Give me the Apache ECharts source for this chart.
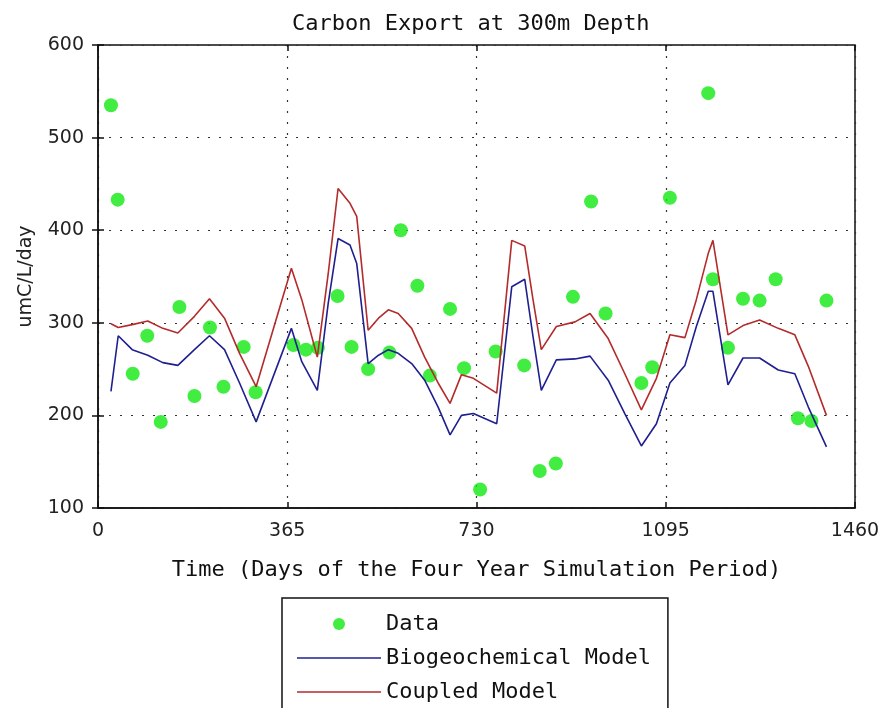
<!DOCTYPE html>
<html>
<head>
<meta charset="utf-8">
<script src="https://cdn.jsdelivr.net/npm/echarts@6/dist/echarts.min.js"></script>
<style>
  html, body { margin: 0; padding: 0; background: #fff; }
  #chart { width: 883px; height: 708px; }
</style>
</head>
<body>
<div id="chart"></div>
<script>
// Observed carbon export samples (day of simulation, umC/L/day)
const dataDays = [25, 38, 67, 95, 121, 157, 186, 216, 242, 281, 304, 377, 401, 424, 462, 489, 521,
  562, 584, 616, 640, 679, 706, 737, 767, 822, 852, 883, 916, 951, 979, 1048, 1069, 1103, 1177,
  1186, 1215, 1244, 1276, 1307, 1350, 1376, 1405];
const dataValues = [535, 433, 245, 286, 193, 317, 221, 295, 231, 274, 225, 276, 271, 273, 329, 274, 250,
  268, 400, 340, 243, 315, 251, 120, 269, 254, 140, 148, 328, 431, 310, 235, 252, 435, 548,
  347, 273, 326, 324, 347, 197, 194, 324];

// Model output days (shared by both model runs)
const modelDays = [25, 39, 66, 96, 125, 154, 186, 215, 244, 273, 305, 373, 393, 423, 444, 463, 486,
  499, 521, 541, 560, 579, 605, 630, 656, 679, 701, 724, 769, 798, 823, 839, 855, 884, 920, 949,
  984, 1016, 1048, 1077, 1103, 1132, 1154, 1177, 1186, 1215, 1244, 1276, 1312, 1344, 1370, 1405];
const biogeoValues = [226, 286, 271, 265, 257, 254, 271, 286, 271, 235, 193, 294, 258, 227, 321, 391, 384,
  364, 256, 265, 271, 267, 256, 238, 209, 179, 200, 202, 191, 339, 347, 285, 227, 260, 261, 264,
  238, 202, 167, 191, 235, 254, 296, 334, 334, 233, 262, 262, 249, 245, 209, 166];
const coupledValues = [299, 295, 298, 302, 294, 289, 307, 326, 305, 267, 231, 359, 325, 263, 353, 445, 429,
  415, 292, 305, 314, 310, 294, 263, 235, 213, 244, 240, 224, 389, 383, 325, 271, 296, 301, 310,
  283, 245, 206, 240, 287, 284, 325, 375, 389, 287, 297, 303, 294, 287, 253, 200];

// Axis ticks
const xTicks = [0, 365, 730, 1095, 1460];
const yTicks = [100, 200, 300, 400, 500, 600];

const pairs = (xs, ys) => xs.map((x, i) => [x, ys[i]]);

const mono = '"DejaVu Sans Mono", "Liberation Mono", monospace';
const sans = '"DejaVu Sans", "Liberation Sans", sans-serif';

const dataColor = '#12e812';
const biogeoColor = '#1f1f8f';
const coupledColor = '#b32b2b';

// thin horizontal bar used as the line sample in the legend
const lineIcon = 'path://M0,0H84V1.6H0Z';

const chart = echarts.init(document.getElementById('chart'), null, { renderer: 'canvas' });

const xMin = xTicks[0], xMax = xTicks[xTicks.length - 1];
const yMin = yTicks[0], yMax = yTicks[yTicks.length - 1];
const xStep = xTicks[1] - xTicks[0], yStep = yTicks[1] - yTicks[0];

const option = {
  backgroundColor: '#ffffff',
  animation: false,
  title: {
    text: 'Carbon Export at 300m Depth',
    left: 292,
    top: 13,
    padding: 0,
    textStyle: { fontFamily: mono, fontSize: 22, fontWeight: 'normal', color: '#111' }
  },
  grid: {
    left: 98, right: 28, top: 45, bottom: 200,
    show: true, borderColor: '#111', borderWidth: 1.5, backgroundColor: '#fff'
  },
  legend: {
    orient: 'vertical',
    left: 282,
    top: 598,
    height: 200,
    padding: [15, 17, 30, 15],
    itemWidth: 84,
    itemHeight: 12,
    itemGap: 12,
    borderColor: '#111',
    borderWidth: 1.5,
    backgroundColor: '#fff',
    textStyle: { fontFamily: mono, fontSize: 22, color: '#111', lineHeight: 22 },
    data: [
      { name: 'Data', icon: 'circle' },
      { name: 'Biogeochemical Model', icon: lineIcon },
      { name: 'Coupled Model', icon: lineIcon }
    ]
  },
  xAxis: [{
    type: 'value',
    min: xMin, max: xMax, interval: xStep,
    name: 'Time (Days of the Four Year Simulation Period)',
    nameLocation: 'middle',
    nameGap: 51,
    nameTextStyle: { fontFamily: mono, fontSize: 22, color: '#111' },
    axisLine: { show: true, lineStyle: { color: '#111', width: 1.5 } },
    axisTick: { show: true, inside: true, length: 6, lineStyle: { color: '#111', width: 1.5 } },
    axisLabel: { fontFamily: sans, fontSize: 19, color: '#222', margin: 14, formatter: v => String(v) },
    splitLine: { show: true, lineStyle: { color: '#333', width: 1.2, type: [2, 9] } }
  }, {
    type: 'value', position: 'top',
    min: xMin, max: xMax, interval: xStep,
    axisLine: { show: false },
    axisTick: { show: true, inside: true, length: 6, lineStyle: { color: '#111', width: 1.5 } },
    axisLabel: { show: false },
    splitLine: { show: false }
  }],
  yAxis: [{
    type: 'value',
    min: yMin, max: yMax, interval: yStep,
    name: 'umC/L/day',
    nameLocation: 'middle',
    nameGap: 62,
    nameTextStyle: { fontFamily: sans, fontSize: 19, color: '#222' },
    axisLine: { show: true, lineStyle: { color: '#111', width: 1.5 } },
    axisTick: { show: true, inside: true, length: 6, lineStyle: { color: '#111', width: 1.5 } },
    axisLabel: { fontFamily: sans, fontSize: 19, color: '#222', margin: 14, formatter: v => String(v) },
    splitLine: { show: true, lineStyle: { color: '#333', width: 1.2, type: [2, 9] } }
  }, {
    type: 'value', position: 'right',
    min: yMin, max: yMax, interval: yStep,
    axisLine: { show: false },
    axisTick: { show: true, inside: true, length: 6, lineStyle: { color: '#111', width: 1.5 } },
    axisLabel: { show: false },
    splitLine: { show: false }
  }],
  series: [{
    name: 'Data',
    type: 'scatter',
    xAxisIndex: 0, yAxisIndex: 0,
    symbol: 'circle',
    symbolSize: 14,
    itemStyle: { color: dataColor },
    data: pairs(dataDays, dataValues)
  }, {
    name: 'Biogeochemical Model',
    type: 'line',
    xAxisIndex: 0, yAxisIndex: 0,
    showSymbol: false,
    symbol: 'none',
    lineStyle: { color: biogeoColor, width: 1.6 },
    itemStyle: { color: biogeoColor },
    data: pairs(modelDays, biogeoValues)
  }, {
    name: 'Coupled Model',
    type: 'line',
    xAxisIndex: 0, yAxisIndex: 0,
    showSymbol: false,
    symbol: 'none',
    lineStyle: { color: coupledColor, width: 1.6 },
    itemStyle: { color: coupledColor },
    data: pairs(modelDays, coupledValues)
  }]
};

chart.setOption(option);
</script>
</body>
</html>
